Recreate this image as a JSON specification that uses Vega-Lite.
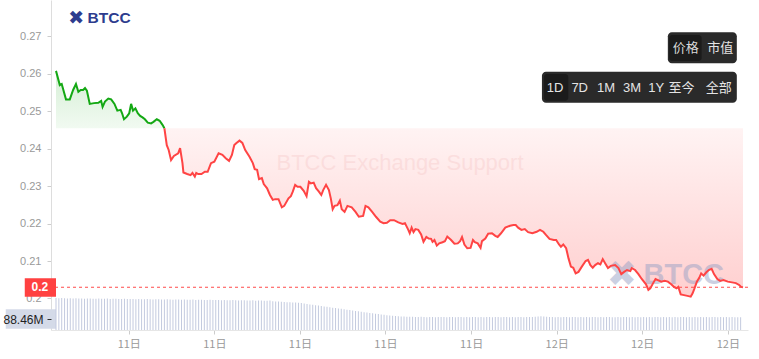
{
"$schema": "https://vega.github.io/schema/vega-lite/v6.json",
"width": 697, "height": 330,
"autosize": {"type": "none"},
"padding": {"left": 51, "top": 0, "right": 11, "bottom": 29},
"background": "white",
"config": {"view": {"stroke": null}, "font": "Liberation Sans"},
"datasets": {
"price": [
{"t":"2024-03-11T06:27:00Z","p":0.2607},{"t":"2024-03-11T06:35:00Z","p":0.2569},{"t":"2024-03-11T06:39:00Z","p":0.2572},{"t":"2024-03-11T06:48:00Z","p":0.2531},{"t":"2024-03-11T06:56:00Z","p":0.2531},{"t":"2024-03-11T07:03:00Z","p":0.2556},{"t":"2024-03-11T07:09:00Z","p":0.2572},{"t":"2024-03-11T07:14:00Z","p":0.2551},{"t":"2024-03-11T07:19:00Z","p":0.2556},{"t":"2024-03-11T07:24:00Z","p":0.2556},{"t":"2024-03-11T07:28:00Z","p":0.2561},{"t":"2024-03-11T07:32:00Z","p":0.2554},{"t":"2024-03-11T07:38:00Z","p":0.2519},{"t":"2024-03-11T07:47:00Z","p":0.2521},{"t":"2024-03-11T07:56:00Z","p":0.2522},{"t":"2024-03-11T08:02:00Z","p":0.2527},{"t":"2024-03-11T08:05:00Z","p":0.2511},{"t":"2024-03-11T08:10:00Z","p":0.2525},{"t":"2024-03-11T08:17:00Z","p":0.2533},{"t":"2024-03-11T08:23:00Z","p":0.2531},{"t":"2024-03-11T08:30:00Z","p":0.2519},{"t":"2024-03-11T08:36:00Z","p":0.2501},{"t":"2024-03-11T08:43:00Z","p":0.2503},{"t":"2024-03-11T08:46:00Z","p":0.2494},{"t":"2024-03-11T08:50:00Z","p":0.2478},{"t":"2024-03-11T08:56:00Z","p":0.2485},{"t":"2024-03-11T09:01:00Z","p":0.2494},{"t":"2024-03-11T09:05:00Z","p":0.2519},{"t":"2024-03-11T09:09:00Z","p":0.2501},{"t":"2024-03-11T09:14:00Z","p":0.2507},{"t":"2024-03-11T09:19:00Z","p":0.2494},{"t":"2024-03-11T09:24:00Z","p":0.2487},{"t":"2024-03-11T09:29:00Z","p":0.2483},{"t":"2024-03-11T09:34:00Z","p":0.2478},{"t":"2024-03-11T09:40:00Z","p":0.2469},{"t":"2024-03-11T09:47:00Z","p":0.2467},{"t":"2024-03-11T09:52:00Z","p":0.2471},{"t":"2024-03-11T09:59:00Z","p":0.2478},{"t":"2024-03-11T10:05:00Z","p":0.2474},{"t":"2024-03-11T10:11:00Z","p":0.2463},
{"t":"2024-03-11T10:15:00Z","p":0.2454},
{"t":"2024-03-11T10:20:00Z","p":0.2409},{"t":"2024-03-11T10:24:00Z","p":0.2396},{"t":"2024-03-11T10:29:00Z","p":0.2369},{"t":"2024-03-11T10:35:00Z","p":0.2380},{"t":"2024-03-11T10:44:00Z","p":0.2387},{"t":"2024-03-11T10:48:00Z","p":0.2401},{"t":"2024-03-11T10:53:00Z","p":0.2361},{"t":"2024-03-11T10:55:00Z","p":0.2336},{"t":"2024-03-11T11:03:00Z","p":0.2332},{"t":"2024-03-11T11:10:00Z","p":0.2329},{"t":"2024-03-11T11:14:00Z","p":0.2335},{"t":"2024-03-11T11:19:00Z","p":0.2325},{"t":"2024-03-11T11:22:00Z","p":0.2335},{"t":"2024-03-11T11:26:00Z","p":0.2332},{"t":"2024-03-11T11:33:00Z","p":0.2332},{"t":"2024-03-11T11:40:00Z","p":0.2338},{"t":"2024-03-11T11:46:00Z","p":0.2338},{"t":"2024-03-11T11:53:00Z","p":0.2361},{"t":"2024-03-11T12:00:00Z","p":0.2365},{"t":"2024-03-11T12:09:00Z","p":0.2387},{"t":"2024-03-11T12:17:00Z","p":0.2383},{"t":"2024-03-11T12:24:00Z","p":0.2374},{"t":"2024-03-11T12:31:00Z","p":0.2367},{"t":"2024-03-11T12:37:00Z","p":0.2383},{"t":"2024-03-11T12:42:00Z","p":0.2409},{"t":"2024-03-11T12:46:00Z","p":0.2414},{"t":"2024-03-11T12:53:00Z","p":0.2421},{"t":"2024-03-11T12:59:00Z","p":0.2415},{"t":"2024-03-11T13:05:00Z","p":0.2396},{"t":"2024-03-11T13:14:00Z","p":0.2378},{"t":"2024-03-11T13:21:00Z","p":0.2361},{"t":"2024-03-11T13:25:00Z","p":0.2345},{"t":"2024-03-11T13:30:00Z","p":0.2343},{"t":"2024-03-11T13:34:00Z","p":0.2318},{"t":"2024-03-11T13:40:00Z","p":0.2321},{"t":"2024-03-11T13:44:00Z","p":0.2305},{"t":"2024-03-11T13:51:00Z","p":0.2294},{"t":"2024-03-11T13:57:00Z","p":0.2276},{"t":"2024-03-11T14:03:00Z","p":0.2263},{"t":"2024-03-11T14:08:00Z","p":0.2265},{"t":"2024-03-11T14:15:00Z","p":0.2265},{"t":"2024-03-11T14:22:00Z","p":0.2243},{"t":"2024-03-11T14:27:00Z","p":0.2247},{"t":"2024-03-11T14:36:00Z","p":0.2267},{"t":"2024-03-11T14:41:00Z","p":0.2273},{"t":"2024-03-11T14:45:00Z","p":0.2285},{"t":"2024-03-11T14:50:00Z","p":0.2303},{"t":"2024-03-11T14:55:00Z","p":0.2298},{"t":"2024-03-11T15:01:00Z","p":0.2298},{"t":"2024-03-11T15:08:00Z","p":0.2287},{"t":"2024-03-11T15:14:00Z","p":0.2273},{"t":"2024-03-11T15:19:00Z","p":0.2311},{"t":"2024-03-11T15:23:00Z","p":0.2307},{"t":"2024-03-11T15:29:00Z","p":0.2309},{"t":"2024-03-11T15:34:00Z","p":0.2294},{"t":"2024-03-11T15:40:00Z","p":0.2285},{"t":"2024-03-11T15:45:00Z","p":0.2276},{"t":"2024-03-11T15:49:00Z","p":0.2289},{"t":"2024-03-11T15:55:00Z","p":0.2303},{"t":"2024-03-11T16:01:00Z","p":0.2289},{"t":"2024-03-11T16:05:00Z","p":0.2267},{"t":"2024-03-11T16:09:00Z","p":0.2238},{"t":"2024-03-11T16:13:00Z","p":0.2247},{"t":"2024-03-11T16:19:00Z","p":0.2249},{"t":"2024-03-11T16:24:00Z","p":0.2261},{"t":"2024-03-11T16:28:00Z","p":0.2238},{"t":"2024-03-11T16:34:00Z","p":0.2231},{"t":"2024-03-11T16:40:00Z","p":0.2247},{"t":"2024-03-11T16:49:00Z","p":0.2243},{"t":"2024-03-11T16:57:00Z","p":0.2231},{"t":"2024-03-11T17:04:00Z","p":0.2218},{"t":"2024-03-11T17:13:00Z","p":0.2220},{"t":"2024-03-11T17:18:00Z","p":0.2247},{"t":"2024-03-11T17:24:00Z","p":0.2243},{"t":"2024-03-11T17:32:00Z","p":0.2231},{"t":"2024-03-11T17:40:00Z","p":0.2218},{"t":"2024-03-11T17:49:00Z","p":0.2205},{"t":"2024-03-11T17:56:00Z","p":0.2201},{"t":"2024-03-11T18:03:00Z","p":0.2202},{"t":"2024-03-11T18:10:00Z","p":0.2209},{"t":"2024-03-11T18:18:00Z","p":0.2209},{"t":"2024-03-11T18:27:00Z","p":0.2203},{"t":"2024-03-11T18:36:00Z","p":0.2199},{"t":"2024-03-11T18:41:00Z","p":0.2201},{"t":"2024-03-11T18:48:00Z","p":0.2183},{"t":"2024-03-11T18:51:00Z","p":0.2174},{"t":"2024-03-11T18:55:00Z","p":0.2189},{"t":"2024-03-11T18:59:00Z","p":0.2177},{"t":"2024-03-11T19:03:00Z","p":0.2185},{"t":"2024-03-11T19:09:00Z","p":0.2183},{"t":"2024-03-11T19:15:00Z","p":0.2171},{"t":"2024-03-11T19:20:00Z","p":0.2151},{"t":"2024-03-11T19:26:00Z","p":0.2164},{"t":"2024-03-11T19:31:00Z","p":0.2160},{"t":"2024-03-11T19:36:00Z","p":0.2159},{"t":"2024-03-11T19:39:00Z","p":0.2151},{"t":"2024-03-11T19:43:00Z","p":0.2156},{"t":"2024-03-11T19:48:00Z","p":0.2141},{"t":"2024-03-11T19:53:00Z","p":0.2147},{"t":"2024-03-11T20:00:00Z","p":0.2150},{"t":"2024-03-11T20:05:00Z","p":0.2153},{"t":"2024-03-11T20:10:00Z","p":0.2165},{"t":"2024-03-11T20:18:00Z","p":0.2156},{"t":"2024-03-11T20:25:00Z","p":0.2146},{"t":"2024-03-11T20:32:00Z","p":0.2147},{"t":"2024-03-11T20:37:00Z","p":0.2153},{"t":"2024-03-11T20:41:00Z","p":0.2164},{"t":"2024-03-11T20:46:00Z","p":0.2144},{"t":"2024-03-11T20:52:00Z","p":0.2134},{"t":"2024-03-11T20:59:00Z","p":0.2135},{"t":"2024-03-11T21:04:00Z","p":0.2156},{"t":"2024-03-11T21:08:00Z","p":0.2150},{"t":"2024-03-11T21:14:00Z","p":0.2147},{"t":"2024-03-11T21:20:00Z","p":0.2135},{"t":"2024-03-11T21:23:00Z","p":0.2153},{"t":"2024-03-11T21:30:00Z","p":0.2160},{"t":"2024-03-11T21:36:00Z","p":0.2173},{"t":"2024-03-11T21:44:00Z","p":0.2174},{"t":"2024-03-11T21:51:00Z","p":0.2167},{"t":"2024-03-11T21:56:00Z","p":0.2164},{"t":"2024-03-11T22:03:00Z","p":0.2174},{"t":"2024-03-11T22:12:00Z","p":0.2189},{"t":"2024-03-11T22:22:00Z","p":0.2194},{"t":"2024-03-11T22:29:00Z","p":0.2196},{"t":"2024-03-11T22:34:00Z","p":0.2196},{"t":"2024-03-11T22:39:00Z","p":0.2189},{"t":"2024-03-11T22:46:00Z","p":0.2183},{"t":"2024-03-11T22:53:00Z","p":0.2185},{"t":"2024-03-11T23:00:00Z","p":0.2177},{"t":"2024-03-11T23:09:00Z","p":0.2174},{"t":"2024-03-11T23:18:00Z","p":0.2178},{"t":"2024-03-11T23:25:00Z","p":0.2183},{"t":"2024-03-11T23:32:00Z","p":0.2178},{"t":"2024-03-11T23:38:00Z","p":0.2169},{"t":"2024-03-11T23:45:00Z","p":0.2159},{"t":"2024-03-11T23:54:00Z","p":0.2156},{"t":"2024-03-11T23:59:00Z","p":0.2156},
{"t":"2024-03-12T00:05:00Z","p":0.2144},{"t":"2024-03-12T00:09:00Z","p":0.2138},{"t":"2024-03-12T00:14:00Z","p":0.2144},{"t":"2024-03-12T00:20:00Z","p":0.2134},{"t":"2024-03-12T00:25:00Z","p":0.2107},{"t":"2024-03-12T00:30:00Z","p":0.2085},{"t":"2024-03-12T00:35:00Z","p":0.2082},{"t":"2024-03-12T00:40:00Z","p":0.2067},{"t":"2024-03-12T00:46:00Z","p":0.2071},{"t":"2024-03-12T00:53:00Z","p":0.2085},{"t":"2024-03-12T01:01:00Z","p":0.2100},{"t":"2024-03-12T01:06:00Z","p":0.2103},{"t":"2024-03-12T01:11:00Z","p":0.2089},{"t":"2024-03-12T01:16:00Z","p":0.2082},{"t":"2024-03-12T01:21:00Z","p":0.2089},{"t":"2024-03-12T01:27:00Z","p":0.2094},{"t":"2024-03-12T01:32:00Z","p":0.2091},{"t":"2024-03-12T01:37:00Z","p":0.2105},{"t":"2024-03-12T01:42:00Z","p":0.2094},{"t":"2024-03-12T01:48:00Z","p":0.2081},{"t":"2024-03-12T01:54:00Z","p":0.2087},{"t":"2024-03-12T02:03:00Z","p":0.2089},{"t":"2024-03-12T02:10:00Z","p":0.2081},{"t":"2024-03-12T02:16:00Z","p":0.2065},{"t":"2024-03-12T02:22:00Z","p":0.2071},{"t":"2024-03-12T02:28:00Z","p":0.2076},{"t":"2024-03-12T02:35:00Z","p":0.2073},{"t":"2024-03-12T02:38:00Z","p":0.2081},{"t":"2024-03-12T02:45:00Z","p":0.2076},{"t":"2024-03-12T02:52:00Z","p":0.2065},{"t":"2024-03-12T02:59:00Z","p":0.2052},{"t":"2024-03-12T03:08:00Z","p":0.2038},{"t":"2024-03-12T03:13:00Z","p":0.2023},{"t":"2024-03-12T03:17:00Z","p":0.2027},{"t":"2024-03-12T03:23:00Z","p":0.2041},{"t":"2024-03-12T03:28:00Z","p":0.2052},{"t":"2024-03-12T03:33:00Z","p":0.2049},{"t":"2024-03-12T03:40:00Z","p":0.2045},{"t":"2024-03-12T03:47:00Z","p":0.2047},{"t":"2024-03-12T03:54:00Z","p":0.2045},{"t":"2024-03-12T04:01:00Z","p":0.2038},{"t":"2024-03-12T04:07:00Z","p":0.2031},{"t":"2024-03-12T04:12:00Z","p":0.2027},{"t":"2024-03-12T04:16:00Z","p":0.2031},{"t":"2024-03-12T04:21:00Z","p":0.2011},{"t":"2024-03-12T04:28:00Z","p":0.2009},{"t":"2024-03-12T04:35:00Z","p":0.2007},{"t":"2024-03-12T04:42:00Z","p":0.2005},{"t":"2024-03-12T04:46:00Z","p":0.2014},{"t":"2024-03-12T04:50:00Z","p":0.2027},{"t":"2024-03-12T04:55:00Z","p":0.2045},{"t":"2024-03-12T05:00:00Z","p":0.2055},{"t":"2024-03-12T05:04:00Z","p":0.2067},{"t":"2024-03-12T05:09:00Z","p":0.2061},{"t":"2024-03-12T05:15:00Z","p":0.2070},{"t":"2024-03-12T05:20:00Z","p":0.2076},{"t":"2024-03-12T05:26:00Z","p":0.2079},{"t":"2024-03-12T05:31:00Z","p":0.2065},{"t":"2024-03-12T05:38:00Z","p":0.2052},{"t":"2024-03-12T05:44:00Z","p":0.2047},{"t":"2024-03-12T05:51:00Z","p":0.2049},{"t":"2024-03-12T06:00:00Z","p":0.2045},{"t":"2024-03-12T06:09:00Z","p":0.2043},{"t":"2024-03-12T06:17:00Z","p":0.2041},{"t":"2024-03-12T06:24:00Z","p":0.2036},{"t":"2024-03-12T06:28:00Z","p":0.2031},{"t":"2024-03-12T06:32:00Z","p":0.2030}
],
"vol": [
{"t":"2024-03-11T06:27:00Z","v":262},{"t":"2024-03-11T06:33:00Z","v":260},{"t":"2024-03-11T06:39:00Z","v":261},{"t":"2024-03-11T06:45:00Z","v":259},{"t":"2024-03-11T06:51:00Z","v":258},{"t":"2024-03-11T06:57:00Z","v":260},
{"t":"2024-03-11T07:03:00Z","v":258},{"t":"2024-03-11T07:09:00Z","v":259},{"t":"2024-03-11T07:15:00Z","v":257},{"t":"2024-03-11T07:21:00Z","v":258},{"t":"2024-03-11T07:27:00Z","v":256},{"t":"2024-03-11T07:33:00Z","v":257},{"t":"2024-03-11T07:39:00Z","v":258},{"t":"2024-03-11T07:45:00Z","v":256},{"t":"2024-03-11T07:51:00Z","v":255},{"t":"2024-03-11T07:57:00Z","v":257},
{"t":"2024-03-11T08:03:00Z","v":256},{"t":"2024-03-11T08:09:00Z","v":255},{"t":"2024-03-11T08:15:00Z","v":257},{"t":"2024-03-11T08:21:00Z","v":254},{"t":"2024-03-11T08:27:00Z","v":255},{"t":"2024-03-11T08:33:00Z","v":256},{"t":"2024-03-11T08:39:00Z","v":254},{"t":"2024-03-11T08:45:00Z","v":253},{"t":"2024-03-11T08:51:00Z","v":255},{"t":"2024-03-11T08:57:00Z","v":254},
{"t":"2024-03-11T09:03:00Z","v":253},{"t":"2024-03-11T09:09:00Z","v":254},{"t":"2024-03-11T09:15:00Z","v":252},{"t":"2024-03-11T09:21:00Z","v":253},{"t":"2024-03-11T09:27:00Z","v":251},{"t":"2024-03-11T09:33:00Z","v":252},{"t":"2024-03-11T09:39:00Z","v":253},{"t":"2024-03-11T09:45:00Z","v":251},{"t":"2024-03-11T09:51:00Z","v":250},{"t":"2024-03-11T09:57:00Z","v":252},
{"t":"2024-03-11T10:03:00Z","v":251},{"t":"2024-03-11T10:09:00Z","v":250},{"t":"2024-03-11T10:15:00Z","v":249},{"t":"2024-03-11T10:21:00Z","v":251},{"t":"2024-03-11T10:27:00Z","v":250},{"t":"2024-03-11T10:33:00Z","v":248},{"t":"2024-03-11T10:39:00Z","v":249},{"t":"2024-03-11T10:45:00Z","v":250},{"t":"2024-03-11T10:51:00Z","v":248},{"t":"2024-03-11T10:57:00Z","v":249},
{"t":"2024-03-11T11:03:00Z","v":248},{"t":"2024-03-11T11:09:00Z","v":247},{"t":"2024-03-11T11:15:00Z","v":249},{"t":"2024-03-11T11:21:00Z","v":246},{"t":"2024-03-11T11:27:00Z","v":247},{"t":"2024-03-11T11:33:00Z","v":248},{"t":"2024-03-11T11:39:00Z","v":246},{"t":"2024-03-11T11:45:00Z","v":245},{"t":"2024-03-11T11:51:00Z","v":247},{"t":"2024-03-11T11:57:00Z","v":246},
{"t":"2024-03-11T12:03:00Z","v":245},{"t":"2024-03-11T12:09:00Z","v":246},{"t":"2024-03-11T12:15:00Z","v":244},{"t":"2024-03-11T12:21:00Z","v":245},{"t":"2024-03-11T12:27:00Z","v":243},{"t":"2024-03-11T12:33:00Z","v":244},{"t":"2024-03-11T12:39:00Z","v":245},{"t":"2024-03-11T12:45:00Z","v":243},{"t":"2024-03-11T12:51:00Z","v":242},{"t":"2024-03-11T12:57:00Z","v":244},
{"t":"2024-03-11T13:03:00Z","v":243},{"t":"2024-03-11T13:09:00Z","v":242},{"t":"2024-03-11T13:15:00Z","v":241},{"t":"2024-03-11T13:21:00Z","v":243},{"t":"2024-03-11T13:27:00Z","v":240},{"t":"2024-03-11T13:33:00Z","v":241},{"t":"2024-03-11T13:39:00Z","v":242},{"t":"2024-03-11T13:45:00Z","v":240},{"t":"2024-03-11T13:51:00Z","v":239},{"t":"2024-03-11T13:57:00Z","v":241},
{"t":"2024-03-11T14:03:00Z","v":236},{"t":"2024-03-11T14:09:00Z","v":234},{"t":"2024-03-11T14:15:00Z","v":233},{"t":"2024-03-11T14:21:00Z","v":231},{"t":"2024-03-11T14:27:00Z","v":230},{"t":"2024-03-11T14:33:00Z","v":228},{"t":"2024-03-11T14:39:00Z","v":227},{"t":"2024-03-11T14:45:00Z","v":226},{"t":"2024-03-11T14:51:00Z","v":224},{"t":"2024-03-11T14:57:00Z","v":223},
{"t":"2024-03-11T15:03:00Z","v":220},{"t":"2024-03-11T15:09:00Z","v":216},{"t":"2024-03-11T15:15:00Z","v":213},{"t":"2024-03-11T15:21:00Z","v":209},{"t":"2024-03-11T15:27:00Z","v":206},{"t":"2024-03-11T15:33:00Z","v":203},{"t":"2024-03-11T15:39:00Z","v":200},{"t":"2024-03-11T15:45:00Z","v":196},{"t":"2024-03-11T15:51:00Z","v":193},{"t":"2024-03-11T15:57:00Z","v":190},
{"t":"2024-03-11T16:03:00Z","v":187},{"t":"2024-03-11T16:09:00Z","v":183},{"t":"2024-03-11T16:15:00Z","v":180},{"t":"2024-03-11T16:21:00Z","v":176},{"t":"2024-03-11T16:27:00Z","v":173},{"t":"2024-03-11T16:33:00Z","v":170},{"t":"2024-03-11T16:39:00Z","v":166},{"t":"2024-03-11T16:45:00Z","v":163},{"t":"2024-03-11T16:51:00Z","v":160},{"t":"2024-03-11T16:57:00Z","v":156},
{"t":"2024-03-11T17:03:00Z","v":153},{"t":"2024-03-11T17:09:00Z","v":150},{"t":"2024-03-11T17:15:00Z","v":146},{"t":"2024-03-11T17:21:00Z","v":143},{"t":"2024-03-11T17:27:00Z","v":140},{"t":"2024-03-11T17:33:00Z","v":137},{"t":"2024-03-11T17:39:00Z","v":133},{"t":"2024-03-11T17:45:00Z","v":130},{"t":"2024-03-11T17:51:00Z","v":127},{"t":"2024-03-11T17:57:00Z","v":124},
{"t":"2024-03-11T18:03:00Z","v":121},{"t":"2024-03-11T18:09:00Z","v":118},{"t":"2024-03-11T18:15:00Z","v":116},{"t":"2024-03-11T18:21:00Z","v":114},{"t":"2024-03-11T18:27:00Z","v":112},{"t":"2024-03-11T18:33:00Z","v":111},{"t":"2024-03-11T18:39:00Z","v":110},{"t":"2024-03-11T18:45:00Z","v":109},{"t":"2024-03-11T18:51:00Z","v":108},{"t":"2024-03-11T18:57:00Z","v":108},
{"t":"2024-03-11T19:03:00Z","v":107},{"t":"2024-03-11T19:09:00Z","v":106},{"t":"2024-03-11T19:15:00Z","v":108},{"t":"2024-03-11T19:21:00Z","v":106},{"t":"2024-03-11T19:27:00Z","v":105},{"t":"2024-03-11T19:33:00Z","v":107},{"t":"2024-03-11T19:39:00Z","v":106},{"t":"2024-03-11T19:45:00Z","v":105},{"t":"2024-03-11T19:51:00Z","v":107},{"t":"2024-03-11T19:57:00Z","v":106},
{"t":"2024-03-11T20:03:00Z","v":106},{"t":"2024-03-11T20:09:00Z","v":105},{"t":"2024-03-11T20:15:00Z","v":107},{"t":"2024-03-11T20:21:00Z","v":106},{"t":"2024-03-11T20:27:00Z","v":105},{"t":"2024-03-11T20:33:00Z","v":106},{"t":"2024-03-11T20:39:00Z","v":107},{"t":"2024-03-11T20:45:00Z","v":105},{"t":"2024-03-11T20:51:00Z","v":106},{"t":"2024-03-11T20:57:00Z","v":105},
{"t":"2024-03-11T21:03:00Z","v":106},{"t":"2024-03-11T21:09:00Z","v":107},{"t":"2024-03-11T21:15:00Z","v":105},{"t":"2024-03-11T21:21:00Z","v":106},{"t":"2024-03-11T21:27:00Z","v":105},{"t":"2024-03-11T21:33:00Z","v":107},{"t":"2024-03-11T21:39:00Z","v":106},{"t":"2024-03-11T21:45:00Z","v":105},{"t":"2024-03-11T21:51:00Z","v":106},{"t":"2024-03-11T21:57:00Z","v":107},
{"t":"2024-03-11T22:03:00Z","v":105},{"t":"2024-03-11T22:09:00Z","v":106},{"t":"2024-03-11T22:15:00Z","v":107},{"t":"2024-03-11T22:21:00Z","v":105},{"t":"2024-03-11T22:27:00Z","v":106},{"t":"2024-03-11T22:33:00Z","v":105},{"t":"2024-03-11T22:39:00Z","v":107},{"t":"2024-03-11T22:45:00Z","v":106},{"t":"2024-03-11T22:51:00Z","v":105},{"t":"2024-03-11T22:57:00Z","v":106},
{"t":"2024-03-11T23:03:00Z","v":106},{"t":"2024-03-11T23:09:00Z","v":107},{"t":"2024-03-11T23:15:00Z","v":108},{"t":"2024-03-11T23:21:00Z","v":110},{"t":"2024-03-11T23:27:00Z","v":112},{"t":"2024-03-11T23:33:00Z","v":110},{"t":"2024-03-11T23:39:00Z","v":108},{"t":"2024-03-11T23:45:00Z","v":107},{"t":"2024-03-11T23:51:00Z","v":106},{"t":"2024-03-11T23:57:00Z","v":105},
{"t":"2024-03-12T00:03:00Z","v":106},{"t":"2024-03-12T00:09:00Z","v":105},{"t":"2024-03-12T00:15:00Z","v":107},{"t":"2024-03-12T00:21:00Z","v":106},{"t":"2024-03-12T00:27:00Z","v":105},{"t":"2024-03-12T00:33:00Z","v":106},{"t":"2024-03-12T00:39:00Z","v":107},{"t":"2024-03-12T00:45:00Z","v":105},{"t":"2024-03-12T00:51:00Z","v":106},{"t":"2024-03-12T00:57:00Z","v":105},
{"t":"2024-03-12T01:03:00Z","v":106},{"t":"2024-03-12T01:09:00Z","v":105},{"t":"2024-03-12T01:15:00Z","v":106},{"t":"2024-03-12T01:21:00Z","v":107},{"t":"2024-03-12T01:27:00Z","v":105},{"t":"2024-03-12T01:33:00Z","v":106},{"t":"2024-03-12T01:39:00Z","v":105},{"t":"2024-03-12T01:45:00Z","v":106},{"t":"2024-03-12T01:51:00Z","v":107},{"t":"2024-03-12T01:57:00Z","v":105},
{"t":"2024-03-12T02:03:00Z","v":105},{"t":"2024-03-12T02:09:00Z","v":106},{"t":"2024-03-12T02:15:00Z","v":105},{"t":"2024-03-12T02:21:00Z","v":106},{"t":"2024-03-12T02:27:00Z","v":107},{"t":"2024-03-12T02:33:00Z","v":105},{"t":"2024-03-12T02:39:00Z","v":106},{"t":"2024-03-12T02:45:00Z","v":105},{"t":"2024-03-12T02:51:00Z","v":106},{"t":"2024-03-12T02:57:00Z","v":105},
{"t":"2024-03-12T03:03:00Z","v":106},{"t":"2024-03-12T03:09:00Z","v":105},{"t":"2024-03-12T03:15:00Z","v":106},{"t":"2024-03-12T03:21:00Z","v":105},{"t":"2024-03-12T03:27:00Z","v":107},{"t":"2024-03-12T03:33:00Z","v":106},{"t":"2024-03-12T03:39:00Z","v":105},{"t":"2024-03-12T03:45:00Z","v":106},{"t":"2024-03-12T03:51:00Z","v":105},{"t":"2024-03-12T03:57:00Z","v":106},
{"t":"2024-03-12T04:03:00Z","v":105},{"t":"2024-03-12T04:09:00Z","v":106},{"t":"2024-03-12T04:15:00Z","v":105},{"t":"2024-03-12T04:21:00Z","v":107},{"t":"2024-03-12T04:27:00Z","v":106},{"t":"2024-03-12T04:33:00Z","v":105},{"t":"2024-03-12T04:39:00Z","v":106},{"t":"2024-03-12T04:45:00Z","v":105},{"t":"2024-03-12T04:51:00Z","v":106},{"t":"2024-03-12T04:57:00Z","v":105},
{"t":"2024-03-12T05:03:00Z","v":106},{"t":"2024-03-12T05:09:00Z","v":105},{"t":"2024-03-12T05:15:00Z","v":106},{"t":"2024-03-12T05:21:00Z","v":105},{"t":"2024-03-12T05:27:00Z","v":106},{"t":"2024-03-12T05:33:00Z","v":107},{"t":"2024-03-12T05:39:00Z","v":105},{"t":"2024-03-12T05:45:00Z","v":106},{"t":"2024-03-12T05:51:00Z","v":105},{"t":"2024-03-12T05:57:00Z","v":106},
{"t":"2024-03-12T06:03:00Z","v":105},{"t":"2024-03-12T06:09:00Z","v":106},{"t":"2024-03-12T06:15:00Z","v":105},{"t":"2024-03-12T06:21:00Z","v":104},{"t":"2024-03-12T06:27:00Z","v":105}
]
},
"layer": [
{
"data": {"name": "price"},
"layer": [
{"transform": [{"filter": "datum.p >= 0.2454"}],
 "mark": {"type": "area", "color": {"gradient": "linear", "x1": 0, "y1": 0, "x2": 0, "y2": 1, "stops": [{"offset": 0, "color": "#d5eed5"}, {"offset": 1, "color": "#f1faf1"}]}},
 "encoding": {
  "x": {"field": "t", "type": "temporal", "title": null,
   "scale": {"type": "utc", "domain": [1710138420000, 1710225120000]},
   "axis": {"values": [1710147600000, 1710158400000, 1710169200000, 1710180000000, 1710190800000, 1710201600000, 1710212400000, 1710223200000], "labelExpr": "utcFormat(datum.value, '%d') == '11' ? '11日' : '12日'", "labelColor": "#999999", "labelFontSize": 11, "labelFont": "Noto Sans CJK SC", "tickColor": "#cccccc", "tickSize": 4, "labelPadding": 4, "domainColor": "#e6e6e6", "grid": false, "title": null}},
  "y": {"field": "p", "type": "quantitative", "title": null,
   "scale": {"domain": [0.1916, 0.2796], "nice": false, "zero": false},
   "axis": {"values": [0.2, 0.21, 0.22, 0.23, 0.24, 0.25, 0.26, 0.27], "format": ".2~f", "labelColor": "#999999", "labelFontSize": 11, "tickColor": "#cccccc", "tickSize": 4, "labelPadding": 6, "domainColor": "#dddddd", "grid": false, "title": null}},
  "y2": {"datum": 0.2454}
 }},
{"transform": [{"filter": "datum.p <= 0.2454"}],
 "mark": {"type": "area", "color": {"gradient": "linear", "x1": 0, "y1": 0, "x2": 0, "y2": 1, "stops": [{"offset": 0, "color": "#fff3f3"}, {"offset": 1, "color": "#ffcfcf"}]}},
 "encoding": {"x": {"field": "t", "type": "temporal"}, "y": {"field": "p", "type": "quantitative"}, "y2": {"datum": 0.2454}}},
{"data": {"values": [{}]},
 "mark": {"type": "text", "text": "BTCC Exchange Support", "fontSize": 22, "color": "#e07a7a", "opacity": 0.12, "align": "center", "baseline": "middle"},
 "encoding": {"x": {"datum": 1710181836000, "type": "temporal"}, "y": {"datum": 0.2361, "type": "quantitative"}}},
{"data": {"values": [{}]},
 "mark": {"type": "text", "text": "✖", "font": "DejaVu Sans", "fontSize": 36, "color": "#98a2c6", "opacity": 0.5, "align": "center", "baseline": "middle"},
 "encoding": {"x": {"datum": 1710209826000, "type": "temporal"}, "y": {"datum": 0.2063, "type": "quantitative"}}},
{"data": {"values": [{}]},
 "mark": {"type": "text", "text": "BTCC", "fontSize": 29, "fontWeight": "bold", "color": "#98a2c6", "opacity": 0.5, "align": "left", "baseline": "middle"},
 "encoding": {"x": {"datum": 1710212562000, "type": "temporal"}, "y": {"datum": 0.2063, "type": "quantitative"}}},
{"transform": [{"filter": "datum.p >= 0.2454"}],
 "mark": {"type": "line", "color": "#14a814", "strokeWidth": 2},
 "encoding": {"x": {"field": "t", "type": "temporal"}, "y": {"field": "p", "type": "quantitative"}}},
{"transform": [{"filter": "datum.p <= 0.2454"}],
 "mark": {"type": "line", "color": "#ff4444", "strokeWidth": 2},
 "encoding": {"x": {"field": "t", "type": "temporal"}, "y": {"field": "p", "type": "quantitative"}}},
{"data": {"values": [{}]},
 "mark": {"type": "rule", "color": "#ff4b4b", "strokeWidth": 1, "strokeDash": [3, 3]},
 "encoding": {"y": {"datum": 0.2030, "type": "quantitative"}}},
{"data": {"values": [{}]},
 "mark": {"type": "rect", "color": "#ff4141"},
 "encoding": {"x": {"datum": 1710134478000, "type": "temporal"}, "x2": {"datum": 1710138420000}, "y": {"datum": 0.20539, "type": "quantitative"}, "y2": {"datum": 0.20048}}},
{"data": {"values": [{}]},
 "mark": {"type": "text", "text": "0.2", "fontSize": 12, "fontWeight": "bold", "color": "white", "align": "center", "baseline": "middle"},
 "encoding": {"x": {"datum": 1710136392000, "type": "temporal"}, "y": {"datum": 0.2030, "type": "quantitative"}}},
{"data": {"values": [{}]},
 "mark": {"type": "text", "text": "✖", "font": "DejaVu Sans", "fontSize": 19, "color": "#2d3c8e", "align": "center", "baseline": "middle"},
 "encoding": {"x": {"datum": 1710140970000, "type": "temporal"}, "y": {"datum": 0.27467, "type": "quantitative"}}},
{"data": {"values": [{}]},
 "mark": {"type": "text", "text": "BTCC", "fontSize": 15.5, "fontWeight": "bold", "color": "#2d3c8e", "align": "left", "baseline": "middle"},
 "encoding": {"x": {"datum": 1710142398000, "type": "temporal"}, "y": {"datum": 0.27467, "type": "quantitative"}}},
{"data": {"values": [{}]},
 "mark": {"type": "rect", "color": "#2a2a2a", "cornerRadius": 4},
 "encoding": {"x": {"datum": 1710215634000, "type": "temporal"}, "x2": {"datum": 1710224340000}, "y": {"datum": 0.27099, "type": "quantitative"}, "y2": {"datum": 0.26272}}},
{"data": {"values": [{}]},
 "mark": {"type": "rect", "color": "#1b1b1b", "cornerRadius": 3},
 "encoding": {"x": {"datum": 1710215796000, "type": "temporal"}, "x2": {"datum": 1710219900000}, "y": {"datum": 0.27027, "type": "quantitative"}, "y2": {"datum": 0.26333}}},
{"data": {"values": [{}]},
 "mark": {"type": "rect", "color": "#2a2a2a", "cornerRadius": 4},
 "encoding": {"x": {"datum": 1710199746000, "type": "temporal"}, "x2": {"datum": 1710224340000}, "y": {"datum": 0.26048, "type": "quantitative"}, "y2": {"datum": 0.25221}}},
{"data": {"values": [{}]},
 "mark": {"type": "rect", "color": "#1b1b1b", "cornerRadius": 3},
 "encoding": {"x": {"datum": 1710199998000, "type": "temporal"}, "x2": {"datum": 1710203070000}, "y": {"datum": 0.25987, "type": "quantitative"}, "y2": {"datum": 0.25275}}},
{"data": {"values": [{}]},
 "mark": {"type": "text", "text": "价格", "font": "Noto Sans CJK SC", "fontSize": 13, "color": "#d8d8d8", "align": "center", "baseline": "middle"},
 "encoding": {"x": {"datum": 1710217908000, "type": "temporal"}, "y": {"datum": 0.2668, "type": "quantitative"}}},
{"data": {"values": [{}]},
 "mark": {"type": "text", "text": "市值", "font": "Noto Sans CJK SC", "fontSize": 13, "color": "#e4e4e4", "align": "center", "baseline": "middle"},
 "encoding": {"x": {"datum": 1710222264000, "type": "temporal"}, "y": {"datum": 0.2668, "type": "quantitative"}}},
{"data": {"values": [{}]},
 "mark": {"type": "text", "text": "1D", "fontSize": 13, "color": "#e4e4e4", "align": "center", "baseline": "middle"},
 "encoding": {"x": {"datum": 1710201402000, "type": "temporal"}, "y": {"datum": 0.25621, "type": "quantitative"}}},
{"data": {"values": [{}]},
 "mark": {"type": "text", "text": "7D", "fontSize": 13, "color": "#e4e4e4", "align": "center", "baseline": "middle"},
 "encoding": {"x": {"datum": 1710204510000, "type": "temporal"}, "y": {"datum": 0.25621, "type": "quantitative"}}},
{"data": {"values": [{}]},
 "mark": {"type": "text", "text": "1M", "fontSize": 13, "color": "#e4e4e4", "align": "center", "baseline": "middle"},
 "encoding": {"x": {"datum": 1710207834000, "type": "temporal"}, "y": {"datum": 0.25621, "type": "quantitative"}}},
{"data": {"values": [{}]},
 "mark": {"type": "text", "text": "3M", "fontSize": 13, "color": "#e4e4e4", "align": "center", "baseline": "middle"},
 "encoding": {"x": {"datum": 1710211104000, "type": "temporal"}, "y": {"datum": 0.25621, "type": "quantitative"}}},
{"data": {"values": [{}]},
 "mark": {"type": "text", "text": "1Y", "fontSize": 13, "color": "#e4e4e4", "align": "center", "baseline": "middle"},
 "encoding": {"x": {"datum": 1710214176000, "type": "temporal"}, "y": {"datum": 0.25621, "type": "quantitative"}}},
{"data": {"values": [{}]},
 "mark": {"type": "text", "text": "至今", "font": "Noto Sans CJK SC", "fontSize": 13, "color": "#e4e4e4", "align": "center", "baseline": "middle"},
 "encoding": {"x": {"datum": 1710217374000, "type": "temporal"}, "y": {"datum": 0.25621, "type": "quantitative"}}},
{"data": {"values": [{}]},
 "mark": {"type": "text", "text": "全部", "font": "Noto Sans CJK SC", "fontSize": 13, "color": "#e4e4e4", "align": "center", "baseline": "middle"},
 "encoding": {"x": {"datum": 1710222054000, "type": "temporal"}, "y": {"datum": 0.25621, "type": "quantitative"}}}
]
},
{
"data": {"name": "vol"},
"layer": [
{"data": {"values": [{}]},
 "mark": {"type": "rect", "color": "#d4dae8"},
 "encoding": {"x": {"datum": 1710132078000, "type": "temporal"}, "x2": {"datum": 1710138420000}, "y": {"datum": 10.6, "type": "quantitative", "scale": {"domain": [0, 2700], "nice": false}}, "y2": {"datum": 169.4}}},
{"mark": {"type": "bar", "color": "#c3cadf", "size": 1},
 "encoding": {
  "x": {"field": "t", "type": "temporal"},
  "y": {"field": "v", "type": "quantitative", "title": null,
   "axis": {"orient": "left", "values": [88.46], "labelExpr": "'88.46M'", "zindex": 1, "domain": false, "grid": false, "tickColor": "#333333", "tickSize": 4, "labelColor": "#222222", "labelFontSize": 12, "labelPadding": 4, "title": null}}
 }}
]
}
],
"resolve": {"scale": {"y": "independent"}}
}
